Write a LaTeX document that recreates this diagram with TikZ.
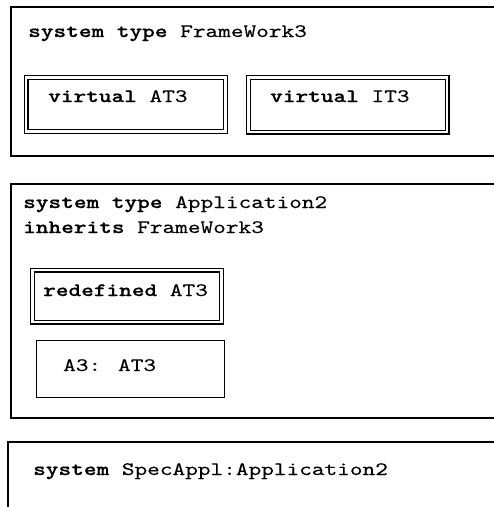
\documentclass[tikz,border=0pt]{standalone}
\usepackage{fontspec}
\newfontfamily\cour{lmmono10-regular.otf}[FakeStretch=1.27, UprightFeatures={FakeBold=0.2}, BoldFont=lmmonolt10-bold.otf, BoldFeatures={FakeStretch=1.27, FakeBold=0.6}]
\begin{document}
\begin{tikzpicture}[x=1pt,y=-1pt,
  frame/.style={draw, line width=1.3pt},
  dbox/.style={draw, line width=1.1pt, double, double distance=2.8pt, inner sep=0pt, anchor=north west},
  sbox/.style={draw, line width=1.2pt, inner sep=0pt, anchor=north west},
  txt/.style={anchor=base west, inner sep=0pt, font=\cour\fontsize{19}{19}\selectfont}]
\useasboundingbox (0,0) rectangle (494,507);
% outer frames, open on the right / bottom
\draw[frame] (500,7) -- (11,7) -- (11,156) -- (500,156);
\draw[frame] (500,184) -- (11,184) -- (11,418) -- (500,418);
\draw[frame] (500,442) -- (8,442) -- (8,512);
% frame 1
\node[txt] (t1) at (28,37) {\textbf{system type} FrameWork3};
\node[dbox, minimum width=199.5pt, minimum height=54pt] (at3) at (25.5,77) {};
\node[dbox, minimum width=198.5pt, minimum height=54.5pt] (it3) at (248,77) {};
\node[txt] (tat3) at (48,102) {\textbf{virtual} AT3};
\node[txt] (tit3) at (270,102) {\textbf{virtual} IT3};
% frame 2
\node[txt] (t2a) at (23,208) {\textbf{system type} Application2};
\node[txt] (t2b) at (23,233) {\textbf{inherits} FrameWork3};
\node[dbox, minimum width=189pt, minimum height=52pt] (red) at (32,269.5) {};
\node[txt] (tred) at (43,296) {\textbf{redefined} AT3};
\node[sbox, minimum width=188pt, minimum height=57pt] (a3) at (36,340) {};
\node[txt] (ta3) at (63,371) {A3: AT3};
% frame 3
\node[txt] (t3) at (33,475) {\textbf{system} SpecAppl:Application2};
\end{tikzpicture}
\end{document}
